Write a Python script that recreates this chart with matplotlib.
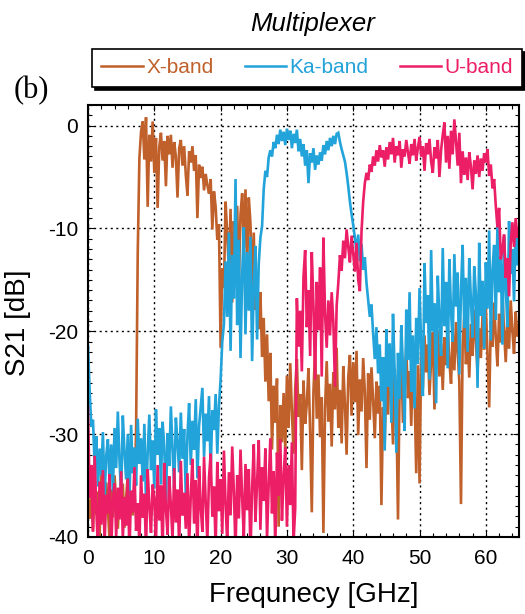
import numpy as np
import matplotlib
matplotlib.use("Agg")
import matplotlib.pyplot as plt
from matplotlib.ticker import MultipleLocator

# Frequency sweep: 0-65 GHz, 0.25 GHz steps (261 points)
FREQ_START_GHZ = 0.0
FREQ_STOP_GHZ = 65.0
FREQ_POINTS = 261

# Measured S21 [dB] of each multiplexer channel, one row per 5 GHz
s21_xband = [
    -36.5, -38.2, -35.1, -39.4, -34.2, -37.8, -35.6, -39.9, -33.8, -36.9, -38.5, -34.7, -37.2, -40.3, -35.4, -38.1, -34.0, -36.6, -39.2, -35.9,
    -37.4, -34.8, -39.1, -36.2, -33.9, -38.4, -35.7, -37.9, -36.3, -29.8, -12.5, -3.2, -0.6, 0.4, -3.3, 0.8, -7.9, -0.9, -3.5, 0.4,
    -4.6, -1.2, -8.0, -2.1, -0.7, -3.4, -1.5, -5.9, -1.0, -2.8, -0.9, -4.1, -1.6, -3.0, -7.0, -2.2, -1.4, -3.9, -2.0, -4.8,
    -6.8, -2.5, -3.6, -2.0, -4.4, -2.9, -9.0, -3.8, -5.1, -4.0, -6.3, -4.7, -5.8, -6.6, -5.2, -10.1, -6.4, -7.9, -11.1, -9.6,
    -21.6, -13.9, -15.8, -7.4, -10.6, -14.2, -8.1, -17.2, -9.3, -12.5, -7.8, -15.4, -8.6, -6.6, -11.9, -6.2, -13.8, -7.0, -9.5, -16.3,
    -10.4, -17.9, -14.6, -19.8, -16.2, -22.5, -18.7, -24.9, -20.3, -26.8, -22.1, -31.5, -25.3, -28.9, -24.6, -39.0, -27.2, -30.8, -26.0, -31.6,
    -24.3, -29.4, -23.1, -27.8, -31.9, -25.6, -22.7, -28.3, -26.1, -33.5, -24.8, -29.0, -27.0, -23.6, -29.7, -37.6, -25.9, -21.8, -28.5, -24.2,
    -30.3, -26.4, -39.6, -27.5, -22.9, -28.8, -25.1, -31.2, -24.0, -27.6, -21.6, -29.4, -25.7, -30.9, -23.4, -27.1, -32.0, -24.5, -22.3, -28.2,
    -23.0, -26.9, -21.9, -30.1, -24.7, -27.8, -22.6, -25.9, -33.3, -24.1, -28.6, -23.5, -26.7, -30.4, -24.9, -28.0, -25.3, -36.9, -27.4, -30.8,
    -24.2, -28.1, -22.8, -26.4, -31.0, -23.7, -27.3, -38.3, -25.0, -22.4, -28.9, -24.6, -21.7, -26.5, -23.9, -29.2, -22.6, -25.8, -33.8, -23.3,
    -34.8, -22.1, -25.6, -20.4, -24.0, -21.3, -26.2, -22.8, -20.1, -27.6, -23.0, -19.9, -24.4, -21.2, -25.7, -20.6, -23.3, -19.5, -22.9, -25.1,
    -20.2, -23.8, -19.1, -22.0, -24.9, -36.8, -21.4, -18.6, -23.2, -20.7, -24.5, -19.3, -22.4, -17.9, -21.0, -24.0, -19.7, -22.6, -18.4, -21.8,
    -17.6, -22.3, -27.4, -19.0, -21.5, -17.2, -20.6, -23.4, -18.3, -21.1, -16.4, -20.0, -23.0, -18.8, -21.7, -17.0, -19.9, -22.2, -18.1, -20.5,
    -19.4,
]

s21_kaband = [
    -21.4, -25.8, -29.3, -28.6, -33.0, -30.2, -35.1, -31.4, -34.0, -29.8, -36.2, -32.1, -30.5, -34.7, -31.0, -35.6, -29.4, -33.3, -27.8, -32.6,
    -35.9, -28.2, -31.7, -34.4, -30.0, -36.5, -29.1, -33.8, -31.3, -35.0, -28.5, -32.9, -30.4, -34.6, -29.0, -36.8, -31.8, -28.1, -33.5, -30.6,
    -35.3, -27.6, -32.0, -29.4, -34.9, -28.8, -31.2, -37.0, -29.9, -33.1, -27.3, -31.6, -35.2, -28.4, -30.8, -33.7, -27.9, -32.4, -29.5, -36.1,
    -30.1, -27.0, -33.0, -28.7, -31.5, -26.6, -34.3, -29.2, -27.4, -25.5, -32.2, -28.0, -30.7, -26.3, -33.6, -27.7, -29.6, -26.1, -31.9, -27.2,
    -24.7, -21.0, -19.3, -13.2, -18.6, -10.4, -21.9, -12.6, -16.8, -5.2, -19.4, -11.1, -22.6, -14.5, -9.9, -20.3, -12.3, -18.0, -10.8, -22.9,
    -15.6, -11.7, -20.8, -13.4, -10.9, -9.8, -6.2, -4.4, -5.0, -3.1, -2.4, -3.0, -1.6, -2.2, -0.9, -1.8, -0.4, -1.5, -0.6, -1.9,
    -0.3, -1.4, -0.5, -2.2, -0.8, -1.7, -0.4, -2.5, -1.3, -3.0, -1.8, -3.9, -2.4, -5.6, -2.7, -3.6, -2.2, -4.3, -2.9, -3.8,
    -2.6, -3.4, -1.9, -2.8, -1.5, -2.4, -1.2, -2.0, -1.0, -1.8, -0.8, -0.7, -1.6, -2.3, -2.9, -3.5, -4.6, -5.9, -7.4, -8.6,
    -9.7, -10.9, -12.3, -10.6, -13.2, -11.5, -14.0, -12.8, -15.3, -16.9, -18.6, -17.4, -20.2, -22.7, -19.6, -24.1, -21.3, -26.8, -22.5, -31.6,
    -19.8, -25.4, -21.2, -28.9, -18.3, -24.0, -31.8, -22.1, -26.6, -19.4, -23.5, -29.7, -17.9, -22.8, -16.2, -25.9, -20.4, -27.5, -18.7, -23.2,
    -15.8, -21.6, -26.3, -13.4, -19.2, -16.5, -24.7, -12.1, -20.0, -17.3, -27.0, -14.6, -18.8, -22.4, -11.9, -19.5, -15.2, -23.6, -13.0, -18.1,
    -21.0, -12.5, -17.6, -14.3, -24.2, -16.0, -11.6, -19.7, -14.8, -22.0, -12.9, -17.0, -20.6, -13.7, -16.4, -25.5, -11.4, -18.5, -15.1, -21.7,
    -13.3, -17.8, -10.2, -20.9, -14.0, -11.6, -18.9, -9.6, -16.2, -12.7, -21.3, -10.8, -15.5, -19.6, -9.3, -14.4, -12.0, -17.1, -9.8, -13.6,
    -10.1,
]

s21_uband = [
    -27.4, -36.2, -33.0, -39.5, -32.1, -37.4, -41.0, -34.6, -38.8, -33.5, -40.6, -35.9, -37.7, -33.9, -41.3, -36.4, -34.8, -39.9, -35.2, -38.3,
    -33.6, -40.2, -36.1, -38.9, -34.3, -41.5, -35.5, -37.6, -33.2, -39.4, -36.7, -40.8, -34.0, -38.1, -35.8, -41.2, -33.4, -37.0, -39.6, -34.9,
    -36.3, -40.7, -33.0, -38.4, -35.0, -41.4, -32.8, -37.3, -39.8, -34.1, -36.9, -40.3, -33.3, -38.6, -35.4, -41.0, -32.6, -37.9, -35.7, -39.2,
    -33.8, -40.9, -36.0, -32.4, -38.7, -34.5, -41.6, -33.1, -37.1, -39.5, -32.2, -36.6, -40.4, -34.2, -31.9, -38.0, -35.1, -41.1, -32.7, -37.5,
    -34.4, -39.7, -31.6, -36.8, -40.6, -33.7, -37.9, -31.2, -35.6, -41.3, -34.0, -38.2, -31.5, -36.2, -40.1, -32.9, -37.4, -33.4, -41.7, -35.3,
    -31.0, -38.5, -34.7, -30.6, -39.3, -33.2, -36.5, -31.4, -40.2, -34.9, -30.4, -37.7, -33.6, -41.0, -31.8, -36.0, -30.5, -38.4, -34.1, -31.3,
    -39.0, -33.0, -36.9, -30.8, -40.5, -37.2, -16.8, -21.5, -18.0, -23.9, -14.7, -12.1, -19.6, -16.0, -22.4, -12.3, -17.5, -24.7, -15.2, -19.9,
    -13.8, -24.4, -10.9, -18.3, -21.6, -17.0, -20.4, -16.2, -19.1, -25.4, -17.5, -15.3, -12.6, -14.1, -11.2, -12.9, -10.1, -11.8, -13.3, -10.7,
    -12.5, -14.2, -11.4, -15.0, -16.1, -10.3, -7.4, -5.6, -4.6, -5.3, -3.8, -4.5, -3.0, -3.9, -2.4, -3.5, -1.9, -3.1, -2.4, -4.0,
    -2.1, -3.3, -1.6, -2.8, -1.2, -3.6, -2.0, -2.9, -1.5, -4.1, -2.3, -3.0, -1.4, -2.6, -3.7, -1.8, -2.9, -1.3, -3.4, -2.2,
    -1.1, -3.0, -2.0, -4.4, -1.7, -2.8, -1.3, -3.5, -4.6, -2.1, -3.2, -1.4, -5.0, -2.4, -0.9, 0.3, -3.6, -1.0, -4.2, -0.5,
    -2.8, 0.6, -1.5, -3.9, -0.7, -5.6, -2.5, -4.8, -3.1, -5.3, -2.6, -4.0, -6.2, -3.4, -4.7, -2.9, -5.0, -3.2, -4.4, -2.7,
    -3.6, -2.3, -4.9, -3.8, -6.1, -5.2, -7.8, -9.9, -8.0, -13.0, -12.1, -10.6, -14.8, -12.9, -16.6, -11.5, -9.4, -11.8, -9.0, -10.9,
    -10.0,
]

band_labels = ["X-band", "Ka-band", "U-band"]
band_colors = ["#C0602B", "#22A3DA", "#EC1E66"]

plt.rcParams["font.family"] = ["Liberation Sans", "DejaVu Sans"]
plt.rcParams["axes.unicode_minus"] = False

freq = np.linspace(FREQ_START_GHZ, FREQ_STOP_GHZ, FREQ_POINTS)

fig = plt.figure(figsize=(5.25, 6.14), dpi=100)
ax = fig.add_axes([88 / 525, 77 / 614, 431 / 525, 432 / 614])

handles = []
for values, label, color in zip([s21_xband, s21_kaband, s21_uband], band_labels, band_colors):
    (ln,) = ax.plot(freq, values, color=color, lw=1.9, label=label, solid_joinstyle="miter")
    handles.append(ln)

ax.set_xlim(0, 65)
ax.set_ylim(-40, 2)
ax.xaxis.set_major_locator(MultipleLocator(10))
ax.xaxis.set_minor_locator(MultipleLocator(2))
ax.yaxis.set_major_locator(MultipleLocator(10))
ax.yaxis.set_minor_locator(MultipleLocator(1))
ax.tick_params(which="both", direction="in", top=True, right=True, width=0.8, labelsize=15)
ax.tick_params(which="major", length=4.5)
ax.tick_params(which="minor", length=3)
ax.tick_params(axis="x", pad=9)
ax.tick_params(axis="y", pad=7)
for sp in ax.spines.values():
    sp.set_linewidth(1.5)
ax.grid(True, which="major", color="black", linestyle=(0, (1.5, 2.5)), linewidth=1.0)

fig.text(314 / 525, 1 - 602 / 614, "Frequnecy [GHz]", ha="center", va="baseline", fontsize=20)
fig.text(5 / 525, 1 - 323 / 614, "S21 [dB]", rotation=90, ha="left", va="center", fontsize=20)
fig.text(313 / 525, 1 - 31 / 614, "Multiplexer", ha="center", va="baseline", fontsize=18.5, style="italic")
fig.text(14 / 525, 1 - 98 / 614, "(b)", ha="left", va="baseline", fontsize=22, family="Liberation Serif")

leg = fig.legend(handles, band_labels, loc="upper left", bbox_to_anchor=(92 / 525, 1 - 49 / 614),
                 ncol=3, fontsize=15, frameon=True, fancybox=False,
                 shadow={"color": "black", "alpha": 1.0},
                 handlelength=2.0, handletextpad=0.15, columnspacing=1.5, borderpad=0.45,
                 borderaxespad=0, labelcolor="linecolor")
leg.get_frame().set_edgecolor("black")
leg.get_frame().set_linewidth(1.2)
for h in leg.get_lines():
    h.set_linewidth(1.8)

fig.savefig("out.png", dpi=100)
